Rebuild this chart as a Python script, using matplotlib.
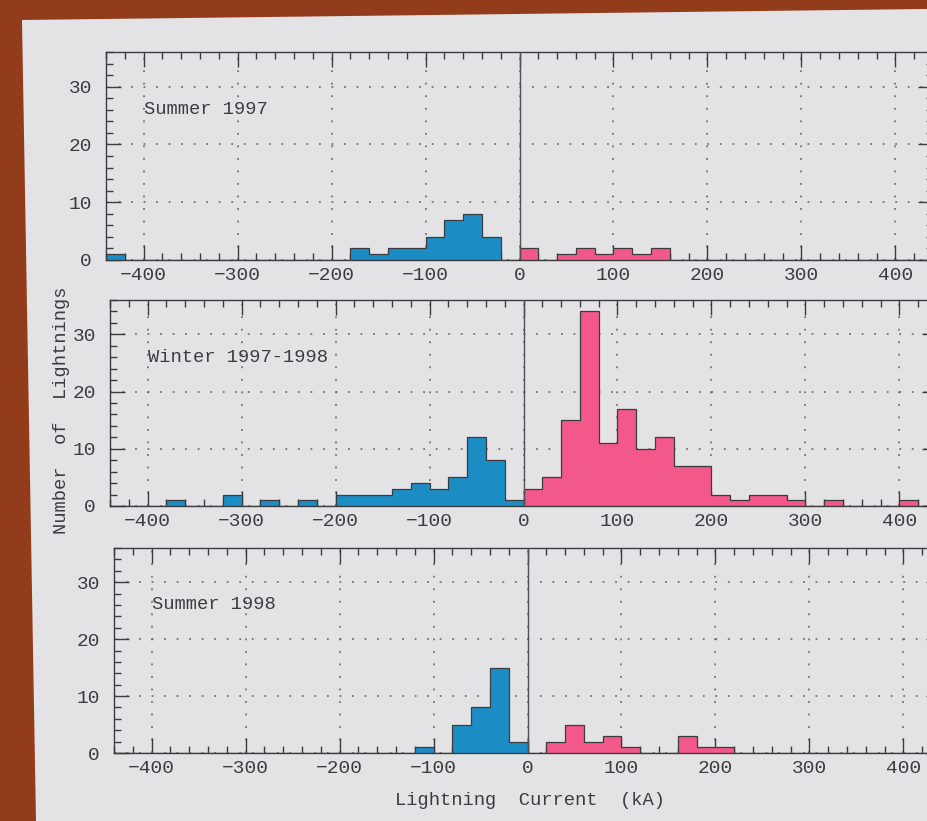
import numpy as np
import matplotlib.pyplot as plt
from matplotlib.patches import Polygon
from matplotlib.ticker import MultipleLocator

plt.rcParams['font.family'] = ['Liberation Mono', 'DejaVu Sans Mono']

# --- data: lightning counts per 20 kA bin ---
bin_width = 20
neg_edges = np.arange(-440, 1, bin_width)   # -440 ... 0
pos_edges = np.arange(0, 441, bin_width)    # 0 ... 440

titles = ["Summer 1997", "Winter 1997-1998", "Summer 1998"]

#                -440                                          -200                                     -20
summer97_neg = [1, 0, 0, 0, 0, 0, 0, 0, 0, 0, 0, 0, 0, 2, 1, 2, 2, 4, 7, 8, 4, 0]
winter_neg   = [0, 0, 0, 1, 0, 0, 2, 0, 1, 0, 1, 0, 2, 2, 2, 3, 4, 3, 5, 12, 8, 1]
summer98_neg = [0, 0, 0, 0, 0, 0, 0, 0, 0, 0, 0, 0, 0, 0, 0, 0, 1, 0, 5, 8, 15, 2]

#                0                              200                                  420
summer97_pos = [2, 0, 1, 2, 1, 2, 1, 2, 0, 0, 0, 0, 0, 0, 0, 0, 0, 0, 0, 0, 0, 0]
winter_pos   = [3, 5, 15, 34, 11, 17, 10, 12, 7, 7, 2, 1, 2, 2, 1, 0, 1, 0, 0, 0, 1, 0]
summer98_pos = [0, 2, 5, 2, 3, 1, 0, 0, 3, 1, 1, 0, 0, 0, 0, 0, 0, 0, 0, 0, 0, 0]

neg_series = [summer97_neg, winter_neg, summer98_neg]
pos_series = [summer97_pos, winter_pos, summer98_pos]

# --- layout (pixels of the 927x821 picture) ---
W, H = 927, 821
# left edge, top, bottom of each panel; x range -440..440 spans ~827 px
panel_px = [(106, 52, 260), (110, 300, 506), (114, 548, 753)]
panel_w = 827

blue = '#1c8cc4'
pink = '#f2588a'
ink = '#3c3c40'
page = '#e3e3e6'

fig = plt.figure(figsize=(W / 100, H / 100), dpi=100)
fig.patch.set_facecolor('#933c1c')
fig.patches.append(Polygon([(22 / W, 1 - 20 / H), (1.0, 1 - 9 / H), (1.0, 0.0), (36 / W, 0.0)],
                           closed=True, transform=fig.transFigure, facecolor=page,
                           edgecolor='none', zorder=-10))

for i, (left, top, bottom) in enumerate(panel_px):
    ax = fig.add_axes([left / W, 1 - bottom / H, panel_w / W, (bottom - top) / H])
    ax.set_facecolor('none')

    ax.stairs(neg_series[i], neg_edges, fill=True, color=blue, zorder=2)
    ax.stairs(neg_series[i], neg_edges, color=ink, lw=0.9, zorder=3)
    ax.stairs(pos_series[i], pos_edges, fill=True, color=pink, zorder=2)
    ax.stairs(pos_series[i], pos_edges, color=ink, lw=0.9, zorder=3)

    ax.axvline(0, color='#505055', lw=1.0, zorder=4)

    ax.set_xlim(-440, 440)
    ax.set_ylim(0, 36)
    ax.xaxis.set_major_locator(MultipleLocator(100))
    ax.xaxis.set_minor_locator(MultipleLocator(20))
    ax.yaxis.set_major_locator(MultipleLocator(10))
    ax.yaxis.set_minor_locator(MultipleLocator(2))
    ax.tick_params(which='both', direction='in', top=True, right=True,
                   color=ink, width=1.0, labelcolor=ink, labelsize=14)
    ax.tick_params(which='major', length=11)
    ax.tick_params(axis='x', which='major', pad=5)
    ax.tick_params(axis='y', which='major', pad=10)
    ax.tick_params(which='minor', length=5)
    ax.grid(True, which='major', linestyle=(0, (1.2, 7)), color='#606065', lw=1.1)
    for sp in ax.spines.values():
        sp.set_color(ink)
        sp.set_linewidth(1.0)

    ax.text(-400, 26, titles[i], fontsize=13.5, color=ink, va='center', ha='left')

fig.text(62 / W, 1 - 410 / H, "Number  of  Lightnings", rotation=90, fontsize=13.5,
         color=ink, ha='center', va='center')
fig.text(530 / W, 1 - 800 / H, "Lightning  Current  (kA)", fontsize=13.5,
         color=ink, ha='center', va='center')

fig.savefig("out.png", dpi=100, facecolor=fig.get_facecolor())
